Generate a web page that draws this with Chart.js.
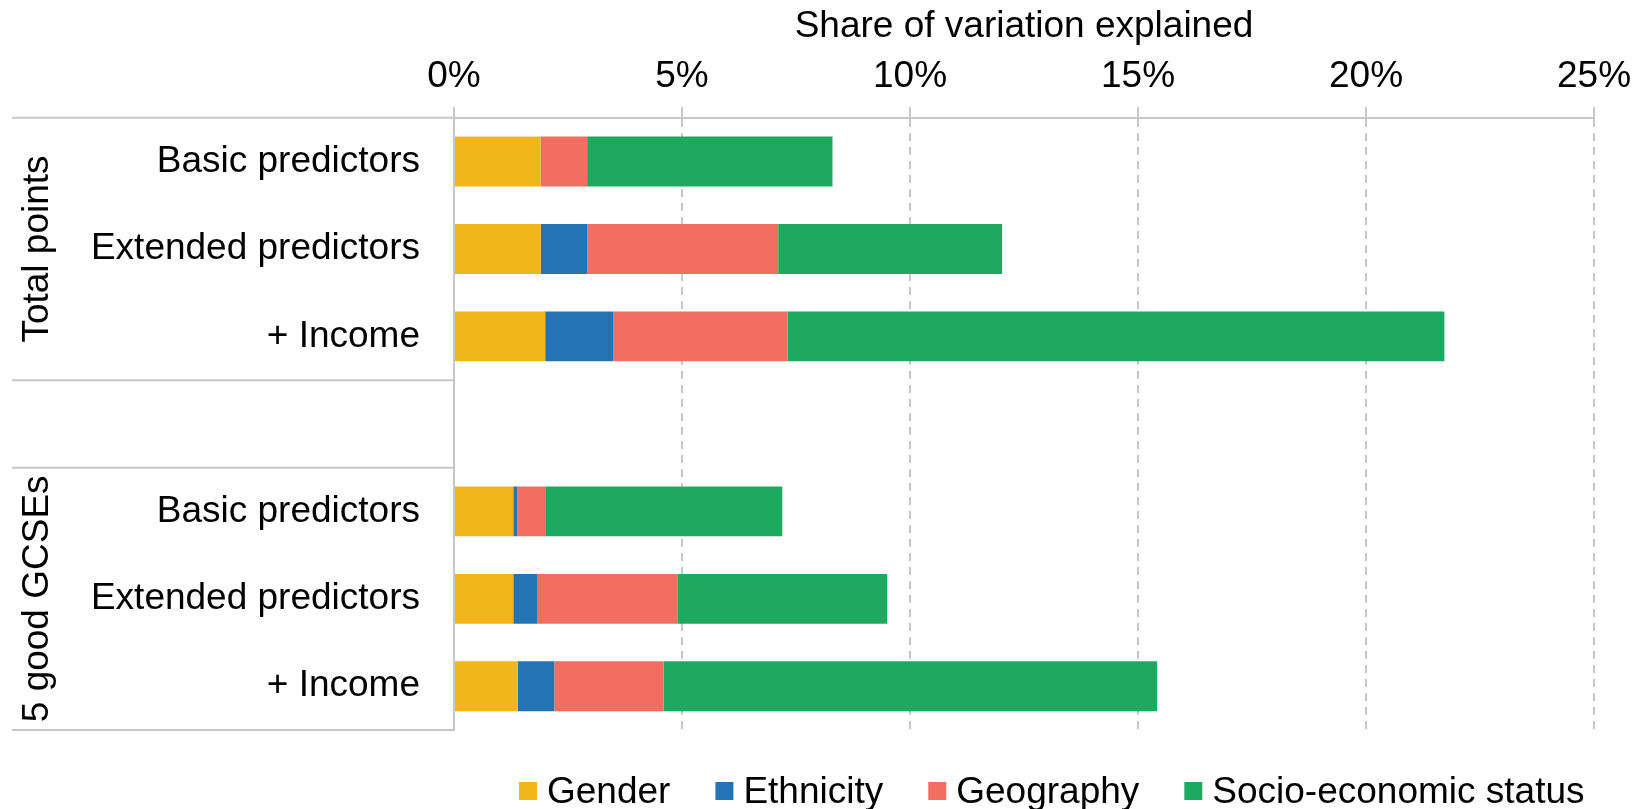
<!DOCTYPE html>
<html>
<head>
<meta charset="utf-8">
<script src="https://cdn.jsdelivr.net/npm/chart.js@4.4.1/dist/chart.umd.min.js"></script>
<style>
html, body { margin: 0; padding: 0; background: #fff; }
canvas { display: block; }
</style>
</head>
<body>
<canvas id="grafico" width="1646" height="809"></canvas>
<script>
// categorias (a linha vazia separa os dois grupos)
var categorias = ['Basic predictors', 'Extended predictors', '+ Income', '', 'Basic predictors', 'Extended predictors', '+ Income'];
var grupos = ['Total points', '5 good GCSEs'];
var gruposInicio = [0, 4];
var gruposFim = [2, 6];

// valores em % da variacao explicada
var gender    = [1.90, 1.90, 2.00, null, 1.30, 1.30, 1.40];
var ethnicity = [0.00, 1.02, 1.49, null, 0.09, 0.52, 0.80];
var geography = [1.02, 4.19, 3.83, null, 0.61, 3.09, 2.40];
var ses       = [5.38, 4.91, 14.40, null, 5.20, 4.59, 10.82];

var corLinha = '#c8c8c8';
var fonte = "'Liberation Sans', Arial, sans-serif";

Chart.defaults.font.family = fonte;
Chart.defaults.font.size = 37;
Chart.defaults.color = '#000';

var decoracao = {
	id: 'decoracao',
	afterDraw: function (chart) {
		var ctx = chart.ctx;
		var area = chart.chartArea;
		var y = chart.scales.y;
		var meio = (y.getPixelForValue(1) - y.getPixelForValue(0)) / 2;

		ctx.save();
		//linhas da area dos rotulos
		ctx.strokeStyle = corLinha;
		ctx.lineWidth = 2;
		var linhas = [area.top, y.getPixelForValue(2) + meio, y.getPixelForValue(3) + meio, area.bottom];
		for (var i = 0; i < linhas.length; i++) {
			ctx.beginPath();
			ctx.moveTo(12, linhas[i]);
			ctx.lineTo(area.left, linhas[i]);
			ctx.stroke();
		}

		//rotulos dos grupos
		ctx.fillStyle = '#000';
		ctx.font = '37px ' + fonte;
		ctx.textAlign = 'center';
		ctx.textBaseline = 'alphabetic';
		for (var g = 0; g < grupos.length; g++) {
			var cy = (y.getPixelForValue(gruposInicio[g]) + y.getPixelForValue(gruposFim[g])) / 2;
			ctx.save();
			ctx.translate(48, cy);
			ctx.rotate(-Math.PI / 2);
			ctx.fillText(grupos[g], 0, 0);
			ctx.restore();
		}

		//legenda
		var x = 519;
		ctx.textAlign = 'left';
		chart.data.datasets.forEach(function (ds) {
			ctx.fillStyle = ds.backgroundColor;
			ctx.fillRect(x, 782, 18, 18);
			ctx.fillStyle = '#000';
			ctx.fillText(ds.label, x + 28, 803);
			x += 28 + ctx.measureText(ds.label).width + 45;
		});
		ctx.restore();
	}
};

var ctx = document.getElementById('grafico').getContext('2d');
var grafico = new Chart(ctx, {
	type: 'bar',
	data: {
		labels: categorias,
		datasets: [
			{ label: 'Gender', data: gender, backgroundColor: '#f2b61b' },
			{ label: 'Ethnicity', data: ethnicity, backgroundColor: '#2473b3' },
			{ label: 'Geography', data: geography, backgroundColor: '#f26e61' },
			{ label: 'Socio-economic status', data: ses, backgroundColor: '#1ea960' }
		]
	},
	options: {
		indexAxis: 'y',
		responsive: false,
		animation: false,
		layout: { padding: { top: 1, right: 52, bottom: 79, left: 0 } },
		datasets: { bar: { categoryPercentage: 1, barPercentage: 0.57, borderWidth: 0 } },
		plugins: { legend: { display: false }, tooltip: { enabled: false } },
		scales: {
			x: {
				position: 'top',
				stacked: true,
				min: 0,
				max: 25,
				ticks: {
					stepSize: 5,
					padding: 8,
					callback: function (v) { return v + '%'; }
				},
				grid: {
					color: corLinha,
					lineWidth: 2,
					tickLength: 11,
					tickBorderDash: []
				},
				border: { display: true, color: corLinha, width: 2, dash: [8, 6] },
				title: {
					display: true,
					text: 'Share of variation explained',
					padding: { top: 4, bottom: -3 }
				}
			},
			y: {
				stacked: true,
				grid: { display: false, drawTicks: false },
				border: { display: true, color: corLinha, width: 2 },
				ticks: { padding: 34 },
				afterFit: function (escala) { escala.width = 454; }
			}
		}
	},
	plugins: [decoracao]
});
</script>
</body>
</html>
